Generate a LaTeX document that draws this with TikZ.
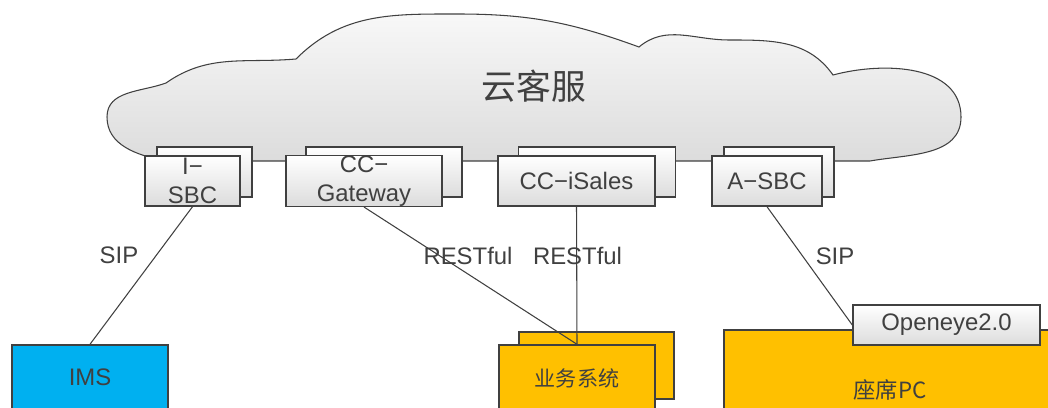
\documentclass[tikz,border=0pt]{standalone}
\usepackage{fontspec}
\setmainfont{Liberation Sans}
\newfontfamily\cjk{Noto Sans CJK SC}
\usepackage{tikz}
\usetikzlibrary{positioning}
\definecolor{linegray}{HTML}{404040}
\definecolor{textgray}{HTML}{404040}
\definecolor{boxgray}{HTML}{DCDCDC}
\definecolor{cloudtop}{HTML}{F8F8F8}
\definecolor{cloudbottom}{HTML}{DCDCDC}
\definecolor{imsblue}{HTML}{00B0F0}
\definecolor{bizyellow}{HTML}{FFC000}
\tikzset{
	netbox/.style={rectangle,draw=linegray,line width=0.8pt,top color=white,bottom color=boxgray,text=textgray,font=\fontsize{13.6}{16.5}\selectfont,align=center,inner sep=0pt,minimum height=1cm},
	sysbox/.style={rectangle,draw=linegray,line width=0.8pt,text=textgray,font=\cjk\fontsize{12}{14}\selectfont,inner sep=0pt},
	link/.style={draw=linegray,line width=0.6pt},
	proto/.style={text=textgray,font=\fontsize{13.6}{16}\selectfont,inner sep=0pt}
}

\begin{document}
\begin{tikzpicture}
	\fill[white] (0,0) rectangle (20.96,8.14);
	\clip (0,0) rectangle (20.96,8.14);
	\draw[draw=linegray,line width=0.6pt,top color=cloudtop,bottom color=cloudbottom] (3.3,4.92) to[out=168,in=-90] (2.14,5.8) to[out=90,in=-160] (3.32,6.48) to[out=35,in=-175] (5.92,6.96) to[out=45,in=180] (9.14,7.86) to[out=0,in=160] (12.78,7.2) to[out=40,in=180] (14.58,7.34) to[out=0,in=125] (16.66,6.64) to[out=15,in=90] (19.22,5.8) to[out=-90,in=10] (17.4,4.92) -- cycle;
	\node[text=textgray,font=\cjk\fontsize{19.8}{22}\selectfont] (Cloud) at (10.68,6.42) {云客服};
	\node[netbox,minimum width=1.9cm] (ISBCback) at (4.09,4.70) {};
	\node[netbox,minimum width=3.12cm] (Gatewayback) at (7.68,4.70) {};
	\node[netbox,minimum width=3.14cm] (iSalesback) at (11.94,4.70) {};
	\node[netbox,minimum width=2.2cm] (ASBCback) at (15.58,4.70) {};
	\node[netbox,minimum width=1.9cm] (ISBC) at (3.85,4.52) {I−\\SBC};
	\node[netbox,minimum width=3.12cm] (Gateway) at (7.28,4.52) {CC−\\Gateway};
	\node[netbox,minimum width=3.14cm] (iSales) at (11.53,4.52) {CC−iSales};
	\node[netbox,minimum width=2.2cm] (ASBC) at (15.34,4.52) {A−SBC};
	\node[sysbox,fill=imsblue,font=\fontsize{13.6}{16}\selectfont,minimum width=3.12cm,minimum height=1.28cm] (IMS) at (1.8,0.6) {IMS};
	\node[sysbox,fill=bizyellow,minimum width=3.1cm,minimum height=1.34cm] (Bizback) at (11.93,0.83) {};
	\node[sysbox,fill=bizyellow,minimum width=3.12cm,minimum height=1.32cm] (Biz) at (11.54,0.58) {业务系统};
	\node[sysbox,fill=bizyellow,font=\cjk\fontsize{12.7}{15}\selectfont,minimum width=6.64cm,minimum height=2.4cm] (Agent) at (17.8,0.34) {座席PC};
	\node[netbox,minimum width=3.74cm,minimum height=0.8cm] (Openeye) at (18.93,1.64) {Openeye2.0};
	\draw[link] (ISBC.south) -- (IMS.north);
	\draw[link] (Gateway.south) -- (Biz.north);
	\draw[link] (iSales.south) -- (Biz.north);
	\draw[link] (ASBC.south) -- (Openeye.west);
	\node[proto] (SIPleft) at (2.38,3.04) {SIP};
	\node[proto] (RESTleft) at (9.36,3.02) {RESTful};
	\node[proto] (RESTright) at (11.55,3.02) {RESTful};
	\node[proto] (SIPright) at (16.7,3.02) {SIP};
\end{tikzpicture}
\end{document}
